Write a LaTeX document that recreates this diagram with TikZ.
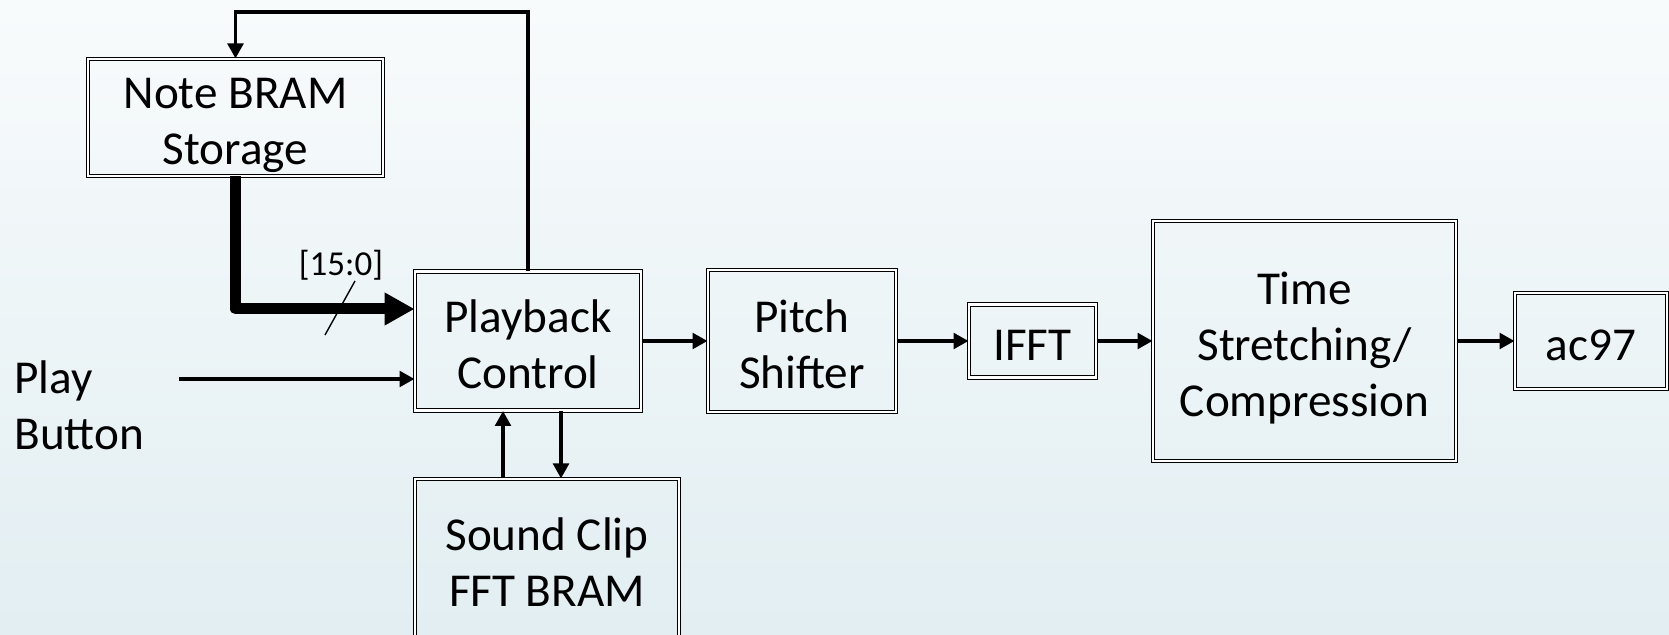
\documentclass[tikz,border=0pt]{standalone}
\usepackage{fontspec}
\setmainfont{Carlito}
\usetikzlibrary{arrows.meta}
\definecolor{bgtop}{HTML}{F8FBFC}
\definecolor{bgbot}{HTML}{E2EEF2}
\tikzset{
  block/.style={draw, double=white, double distance=1.2pt, line width=0.5pt,
    align=center, inner sep=0pt, font=\fontsize{23.6}{28}\selectfont,
    text depth=0pt, text height=47.2pt},
  oneline/.style={text height=19.2pt},
  threeline/.style={text height=75.2pt},
  sig/.style={line width=1.8pt, -{Triangle[length=7.5pt,width=7.8pt]}},
  bus/.style={line width=5.5pt, line join=round, -{Triangle[length=15pt,width=15.5pt]}},
}
\begin{document}
\begin{tikzpicture}[x=0.5pt,y=0.5pt]
  \shade[top color=bgtop, bottom color=bgbot] (0,0) rectangle (1669,635);
  \useasboundingbox (0,0) rectangle (1669,635);
  % blocks
  \node[block, minimum width=147.5pt, minimum height=58.5pt] (note) at (235.5,517.5) {Note BRAM\\Storage};
  \node[block, minimum width=113pt, minimum height=69.5pt] (pb) at (528,294) {Playback\\Control};
  \node[block, minimum width=94pt, minimum height=71pt] (ps) at (802,294) {Pitch\\Shifter};
  \node[block, oneline, minimum width=63.5pt, minimum height=36.5pt] (ifft) at (1032.5,294) {IFFT};
  \node[block, threeline, minimum width=151.5pt, minimum height=120pt] (time) at (1304.5,294) {Time\\Stretching/\\Compression};
  \node[block, oneline, minimum width=76pt, minimum height=48pt] (ac) at (1591,294) {ac97};
  \node[block, minimum width=132pt, minimum height=80pt] (clip) at (547,76) {Sound Clip\\FFT BRAM};
  \node[align=left, anchor=west, inner sep=0pt, font=\fontsize{23.6}{28}\selectfont] (btn) at (14,230) {Play\\Button};
  \node[inner sep=0pt, font=\fontsize{17.5}{21}\selectfont] (width) at (341,370) {[15:0]};
  \coordinate (btnout) at (179,256);
  \coordinate (fbtop) at (528,623);
  \coordinate (clipup) at (503,0);
  \coordinate (clipdn) at (561,0);
  % connections
  \draw[bus] (note.south) |- ([yshift=16pt]pb.west);
  \draw[line width=0.7pt] (325,300) -- (355,354);
  \draw[sig] (btnout) -- ([yshift=-19pt]pb.west);
  \draw[sig] (pb.north) -- (fbtop) -| (note.north);
  \draw[sig] (clip.north -| clipup) -- (pb.south -| clipup);
  \draw[sig] (pb.south -| clipdn) -- (clip.north -| clipdn);
  \draw[sig] (pb) -- (ps);
  \draw[sig] (ps) -- (ifft);
  \draw[sig] (ifft) -- (time);
  \draw[sig] (time) -- (ac);
\end{tikzpicture}
\end{document}
